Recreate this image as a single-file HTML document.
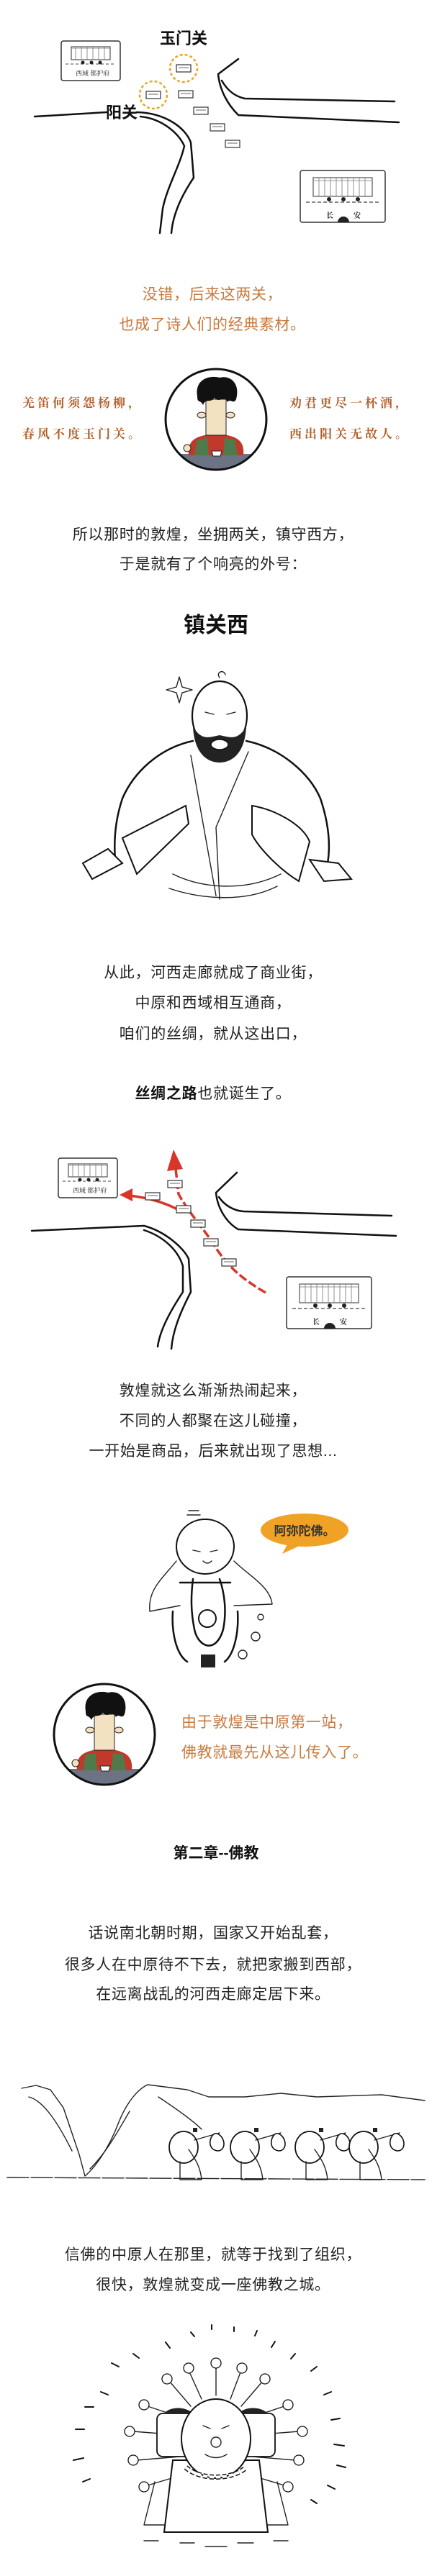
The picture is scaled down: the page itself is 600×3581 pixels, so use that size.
<!DOCTYPE html>
<html><head><meta charset="utf-8">
<style>
html,body{margin:0;padding:0;background:#fff;}
svg{display:block;}
.t{font-family:"Liberation Sans","Noto Sans CJK SC",sans-serif;font-size:21px;fill:#222;letter-spacing:0.7px;}
.o{font-family:"Liberation Sans","Noto Sans CJK SC",sans-serif;font-size:21px;fill:#c87a3e;letter-spacing:0.6px;}
.p{font-family:"Noto Serif CJK SC",serif;font-weight:bold;font-size:17px;fill:#b0602a;letter-spacing:4px;}
.b{font-family:"Liberation Sans","Noto Sans CJK SC",sans-serif;font-weight:bold;fill:#111;}
.ln{fill:none;stroke:#111;stroke-width:2.5;stroke-linecap:round;stroke-linejoin:round;}
.th{fill:none;stroke:#222;stroke-width:1.4;stroke-linecap:round;stroke-linejoin:round;}
</style></head>
<body>
<svg width="600" height="3581" viewBox="0 0 600 3581" xmlns="http://www.w3.org/2000/svg">
<defs>
<g id="fort"><rect x="-10" y="-5" width="20" height="10" fill="#fff" stroke="#333" stroke-width="1.2"/><line x1="-7" y1="-1" x2="7" y2="-1" stroke="#666" stroke-width="1"/></g>
<g id="cityA"><rect x="0" y="0" width="82" height="55" fill="#fff" stroke="#333" stroke-width="1.5" rx="3"/><rect x="14" y="8" width="54" height="18" fill="none" stroke="#555" stroke-width="1.2"/><path d="M14,10 h54 M20,8 v18 M28,8 v18 M36,8 v18 M44,8 v18 M52,8 v18 M60,8 v18" stroke="#777" stroke-width="0.8"/><path d="M6,32 h70" stroke="#444" stroke-width="1" stroke-dasharray="4,3"/><circle cx="30" cy="30" r="2.5" fill="#222"/><circle cx="42" cy="30" r="2.5" fill="#222"/><circle cx="54" cy="30" r="2.5" fill="#222"/><text x="20" y="48" font-family="Noto Serif CJK SC,serif" font-size="9" fill="#222">西域  都护府</text></g>
<g id="cityB"><rect x="0" y="0" width="118" height="72" fill="#fff" stroke="#333" stroke-width="1.5" rx="3"/><rect x="18" y="10" width="82" height="26" fill="none" stroke="#555" stroke-width="1.2"/><path d="M18,14 h82 M26,10 v26 M34,10 v26 M42,10 v26 M50,10 v26 M58,10 v26 M66,10 v26 M74,10 v26 M82,10 v26 M90,10 v26" stroke="#777" stroke-width="0.8"/><path d="M8,44 h102" stroke="#444" stroke-width="1.2" stroke-dasharray="5,3"/><circle cx="40" cy="40" r="3" fill="#222"/><circle cx="60" cy="40" r="3" fill="#222"/><circle cx="80" cy="40" r="3" fill="#222"/><path d="M52,72 a8,8 0 0 1 16,0z" fill="#222"/><text x="36" y="66" font-family="Noto Serif CJK SC,serif" font-size="10" font-weight="bold" fill="#222">长</text><text x="74" y="66" font-family="Noto Serif CJK SC,serif" font-size="10" font-weight="bold" fill="#222">安</text></g>
<g id="guy">
<clipPath id="cc"><circle cx="0" cy="0" r="70"/></clipPath>
<g clip-path="url(#cc)">
<rect x="-90" y="48" width="180" height="40" fill="#6b7384"/>
<path d="M-38,50 C-40,30 -30,22 0,20 C30,22 40,30 38,50z" fill="#c0392b"/>
<path d="M-30,50 L-26,28 L-12,26 L-10,50z M30,50 L26,28 L12,26 L10,50z" fill="#4f7a4a"/>
<rect x="-14" y="-28" width="28" height="50" fill="#f3e2c2" stroke="#222" stroke-width="1"/>
<path d="M-26,-32 C-30,-55 -10,-62 5,-58 C20,-62 34,-50 28,-28 C24,-20 20,-30 16,-24 C12,-34 4,-22 -2,-30 C-8,-22 -14,-30 -18,-20 C-22,-28 -26,-22 -26,-32z" fill="#111"/>
<ellipse cx="-20" cy="-6" rx="6" ry="4" fill="#f3e2c2" stroke="#222" stroke-width="1"/>
<ellipse cx="20" cy="-6" rx="6" ry="4" fill="#f3e2c2" stroke="#222" stroke-width="1"/>
<path d="M-6,44 h14 l-2,7 h-10z" fill="#fff" stroke="#222" stroke-width="1"/>
<circle cx="-40" cy="40" r="5" fill="#f3e2c2" stroke="#222" stroke-width="1"/>
</g>
<circle cx="0" cy="0" r="70" fill="none" stroke="#111" stroke-width="3"/>
</g>
</defs>

<!-- MAP 1 -->
<text class="b" x="255" y="61" font-size="22" text-anchor="middle">玉门关</text>
<text class="b" x="169" y="164" font-size="22" text-anchor="middle">阳关</text>
<use href="#cityA" x="85" y="57"/>
<use href="#cityB" x="417" y="237"/>
<path class="ln" d="M48,162 L148,156"/>
<path class="ln" d="M190,156 C230,157 258,178 265,198 L269,247 C250,275 240,300 238,324"/>
<path class="ln" d="M195,162 C225,165 248,185 256,203 C250,230 232,260 226,290 L222,324"/>
<path class="ln" d="M331,82 L303,103 C305,125 316,145 331,160 L554,170"/>
<path class="ln" d="M308,112 C316,126 326,134 340,137 L548,141"/>
<circle cx="255" cy="95" r="19" fill="none" stroke="#e8a628" stroke-width="2.5" stroke-dasharray="4,3"/>
<circle cx="213" cy="132" r="19" fill="none" stroke="#e8a628" stroke-width="2.5" stroke-dasharray="4,3"/>
<use href="#fort" x="255" y="95"/><use href="#fort" x="213" y="132"/>
<use href="#fort" x="258" y="131"/><use href="#fort" x="279" y="154"/><use href="#fort" x="302" y="177"/><use href="#fort" x="323" y="200"/>

<text class="o" x="295" y="416" text-anchor="middle">没错，后来这两关，</text>
<text class="o" x="295" y="458" text-anchor="middle">也成了诗人们的经典素材。</text>

<text class="p" x="31" y="566">羌笛何须怨杨柳，</text>
<text class="p" x="31" y="609">春风不度玉门关。</text>
<text class="p" x="402" y="566">劝君更尽一杯酒，</text>
<text class="p" x="402" y="609">西出阳关无故人。</text>
<use href="#guy" x="300" y="583"/>

<text class="t" x="296" y="750" text-anchor="middle">所以那时的敦煌，坐拥两关，镇守西方，</text>
<text class="t" x="296" y="791" text-anchor="middle">于是就有了个响亮的外号：</text>
<text class="b" x="300" y="879" font-size="30" text-anchor="middle">镇关西</text>

<!-- BUTCHER -->
<g>
<path class="th" d="M245,955 l4,-14 l4,14 l14,4 l-14,4 l-4,14 l-4,-14 l-14,-4z"/>
<ellipse cx="305" cy="995" rx="38" ry="48" fill="#fff" stroke="#111" stroke-width="2.2"/>
<path d="M305,942 c-6,-8 6,-12 8,-4" class="th"/>
<path d="M268,1010 C270,1050 290,1060 305,1060 C320,1060 340,1050 342,1010 C330,1030 320,1025 305,1022 C290,1025 280,1030 268,1010z" fill="#222"/>
<ellipse cx="305" cy="1035" rx="12" ry="7" fill="#fff" stroke="#111" stroke-width="1.5"/>
<path class="th" d="M285,990 l12,3 M315,993 l12,-3"/>
<path class="ln" d="M268,1030 C220,1040 185,1075 170,1110 C160,1140 158,1170 160,1195 M342,1030 C390,1040 430,1075 445,1110 C455,1140 460,1170 455,1200"/>
<path class="th" d="M265,1050 L300,1245 M345,1045 L300,1150 M300,1150 L305,1250"/>
<path class="th" d="M240,1215 C280,1235 340,1240 390,1215 M235,1235 C280,1250 340,1255 385,1232"/>
<path d="M170,1165 L258,1120 L262,1145 L190,1215z" fill="#fff" stroke="#111" stroke-width="2"/>
<path d="M115,1200 L150,1180 L170,1200 L128,1222z" fill="#fff" stroke="#111" stroke-width="2"/>
<path d="M350,1120 C380,1125 420,1145 430,1170 L415,1225 C390,1210 360,1180 350,1160z" fill="#fff" stroke="#111" stroke-width="2"/>
<path d="M430,1195 L470,1200 L488,1222 L450,1225z" fill="#fff" stroke="#111" stroke-width="2"/>
</g>

<text class="t" x="296" y="1359" text-anchor="middle">从此，河西走廊就成了商业街，</text>
<text class="t" x="296" y="1401" text-anchor="middle">中原和西域相互通商，</text>
<text class="t" x="296" y="1444" text-anchor="middle">咱们的丝绸，就从这出口，</text>
<text class="t" x="296" y="1527" text-anchor="middle"><tspan font-weight="bold" fill="#111">丝绸之路</tspan>也就诞生了。</text>

<!-- MAP 2 -->
<use href="#cityA" x="81" y="1610"/>
<use href="#cityB" x="398" y="1775"/>
<path class="ln" d="M44,1711 L200,1704 C230,1712 255,1735 262,1750 L265,1796 C250,1825 240,1850 238,1875"/>
<path class="ln" d="M200,1710 C230,1720 248,1740 254,1760 L254,1796 C235,1825 222,1850 219,1872"/>
<path class="ln" d="M329,1630 L300,1658 C302,1680 315,1700 331,1709 L550,1718"/>
<path class="ln" d="M304,1664 C312,1676 325,1683 338,1684 L544,1690"/>
<path d="M369,1797 C340,1780 320,1765 300,1735 C285,1710 265,1690 248,1660 L244,1625" fill="none" stroke="#d9362b" stroke-width="3.5" stroke-dasharray="12,4"/>
<path d="M232,1628 L241,1598 L254,1625z" fill="#d9362b"/>
<path d="M250,1683 C230,1672 205,1665 180,1662" fill="none" stroke="#d9362b" stroke-width="3.5"/>
<path d="M184,1652 L166,1661 L184,1670z" fill="#d9362b"/>
<use href="#fort" x="243" y="1646"/><use href="#fort" x="212" y="1663"/><use href="#fort" x="255" y="1681"/><use href="#fort" x="275" y="1701"/><use href="#fort" x="293" y="1727"/><use href="#fort" x="318" y="1755"/>

<text class="t" x="296" y="1940" text-anchor="middle">敦煌就这么渐渐热闹起来，</text>
<text class="t" x="296" y="1982" text-anchor="middle">不同的人都聚在这儿碰撞，</text>
<text class="t" x="296" y="2024" text-anchor="middle">一开始是商品，后来就出现了思想...</text>

<!-- MONK -->
<ellipse cx="423" cy="2127" rx="61" ry="23" fill="#f0a226"/>
<path d="M400,2145 L392,2160 L418,2148z" fill="#f0a226"/>
<text x="423" y="2134" font-family="Liberation Sans,Noto Sans CJK SC,sans-serif" font-size="17" font-weight="bold" fill="#333" text-anchor="middle">阿弥陀佛。</text>
<g>
<path class="th" d="M262,2100 h14 M260,2106 h18"/>
<ellipse cx="285" cy="2150" rx="40" ry="38" fill="#fff" stroke="#111" stroke-width="2"/>
<path class="th" d="M268,2155 l10,2 M292,2157 l10,-2 M282,2170 c4,4 8,4 12,0"/>
<path class="th" d="M245,2170 C225,2195 205,2210 208,2240 L250,2232 M325,2170 C345,2190 375,2205 378,2230 L325,2232"/>
<path class="ln" d="M250,2200 h70 M268,2195 C265,2220 265,2240 270,2265 C275,2290 300,2300 310,2265 C315,2240 312,2215 305,2195"/>
<circle cx="288" cy="2250" r="12" fill="none" stroke="#111" stroke-width="2"/>
<path class="ln" d="M240,2240 C238,2270 245,2300 260,2310 M330,2240 C332,2270 325,2300 312,2310"/>
<rect x="279" y="2300" width="20" height="18" fill="#222"/>
<circle cx="355" cy="2275" r="6" class="th"/><circle cx="337" cy="2300" r="6" class="th"/><circle cx="362" cy="2248" r="4" class="th"/>
</g>

<use href="#guy" x="145" y="2411"/>
<text class="o" x="252" y="2401">由于敦煌是中原第一站，</text>
<text class="o" x="252" y="2443">佛教就最先从这儿传入了。</text>

<text class="b" x="300" y="2583" font-size="21" text-anchor="middle">第二章--佛教</text>

<text class="t" x="296" y="2694" text-anchor="middle">话说南北朝时期，国家又开始乱套，</text>
<text class="t" x="296" y="2738" text-anchor="middle">很多人在中原待不下去，就把家搬到西部，</text>
<text class="t" x="296" y="2779" text-anchor="middle">在远离战乱的河西走廊定居下来。</text>

<!-- MOUNTAINS -->
<g>
<path class="th" d="M30,2903 L50,2899 L70,2905 L88,2930 L110,2995 L118,3025 C130,3015 150,2990 165,2950 C175,2925 190,2905 205,2898 L260,2905 L290,2915 L340,2915 L390,2910 L440,2915 L530,2912 L590,2920"/>
<path class="th" d="M40,2915 C60,2920 80,2950 100,2990 M180,2935 C165,2960 150,2990 125,3015 M220,2915 C250,2935 270,2950 280,2960"/>
<path class="th" d="M10,3027 L590,3030" stroke-dasharray="30,3"/>
<g id="walker">
<ellipse cx="255" cy="2985" rx="20" ry="22" fill="#fff" stroke="#111" stroke-width="1.8"/>
<path class="th" d="M262,2988 C270,3000 278,3010 280,3030 L250,3030 L250,3005"/>
<path class="th" d="M270,2975 L305,2965"/>
<path d="M298,2966 c-8,5 -10,22 4,24 c12,0 12,-18 0,-24z" fill="#fff" stroke="#111" stroke-width="1.6"/>
<rect x="268" y="2958" width="6" height="6" fill="#222"/>
</g>
<use href="#walker" x="85" y="0"/>
<use href="#walker" x="175" y="0"/>
<use href="#walker" x="250" y="0"/>
</g>

<text class="t" x="296" y="3141" text-anchor="middle">信佛的中原人在那里，就等于找到了组织，</text>
<text class="t" x="296" y="3183" text-anchor="middle">很快，敦煌就变成一座佛教之城。</text>

<!-- BUDDHA -->
<g stroke="#111" stroke-width="2" stroke-linecap="round" fill="none">
<path d="M294,3232 v6 M325,3235 v6 M357,3240 l-3,7 M265,3242 l5,6 M230,3256 l6,8 M185,3272 l8,6 M155,3285 l10,5 M140,3325 l10,4 M118,3346 l12,0 M105,3377 l12,0 M102,3420 l14,-3 M115,3450 l10,-4 M382,3255 l-5,8 M410,3272 l-6,7 M440,3290 l-8,6 M460,3325 l-10,4 M472,3362 l-12,2 M478,3400 l-14,-2 M480,3430 l-12,-3 M465,3460 l-10,-5 M440,3480 l-8,-5"/>
</g>
<g>
<path class="th" d="M300,3330 L300,3290 M280,3335 L262,3295 M320,3335 L335,3295 M265,3345 L235,3310 M335,3345 L365,3310 M250,3360 L205,3345 M350,3360 L395,3345 M248,3385 L185,3380 M352,3385 L415,3380 M250,3415 L190,3420 M350,3415 L410,3420 M255,3440 L205,3455 M345,3440 L395,3455"/>
<g fill="#fff" stroke="#111" stroke-width="1.3">
<circle cx="300" cy="3285" r="7"/><circle cx="262" cy="3292" r="7"/><circle cx="336" cy="3292" r="7"/><circle cx="232" cy="3307" r="7"/><circle cx="368" cy="3307" r="7"/><circle cx="200" cy="3343" r="7"/><circle cx="400" cy="3343" r="7"/><circle cx="180" cy="3380" r="7"/><circle cx="420" cy="3380" r="7"/><circle cx="185" cy="3420" r="7"/><circle cx="415" cy="3420" r="7"/><circle cx="200" cy="3457" r="7"/><circle cx="400" cy="3457" r="7"/>
</g>
<rect x="218" y="3355" width="50" height="60" fill="#fff" stroke="#111" stroke-width="1.8" rx="8"/>
<rect x="332" y="3355" width="50" height="60" fill="#fff" stroke="#111" stroke-width="1.8" rx="8"/>
<path d="M228,3355 c8,-10 30,-10 40,0z M332,3355 c8,-10 30,-10 40,0z" fill="#222"/>
<path d="M240,3420 L228,3520 L372,3520 L360,3420z" fill="#fff" stroke="#111" stroke-width="2"/>
<path class="th" d="M215,3450 L200,3510 L228,3510 M385,3450 L400,3510 L372,3510"/>
<ellipse cx="300" cy="3390" rx="48" ry="55" fill="#fff" stroke="#111" stroke-width="2"/>
<path class="th" d="M282,3372 l10,4 M318,3372 l-10,4 M285,3412 c10,6 20,6 30,0"/>
<circle cx="300" cy="3395" r="7" class="th"/>
<path d="M258,3430 c20,18 64,18 84,0" fill="none" stroke="#111" stroke-width="7" stroke-dasharray="6,3"/>
<path d="M258,3430 c20,18 64,18 84,0" fill="none" stroke="#fff" stroke-width="4" stroke-dasharray="6,3"/>
<path class="th" d="M250,3535 l20,0 M285,3540 l30,0 M330,3535 l22,0 M200,3532 l20,0 M380,3532 l20,0"/>
</g>
</svg>
</body></html>
